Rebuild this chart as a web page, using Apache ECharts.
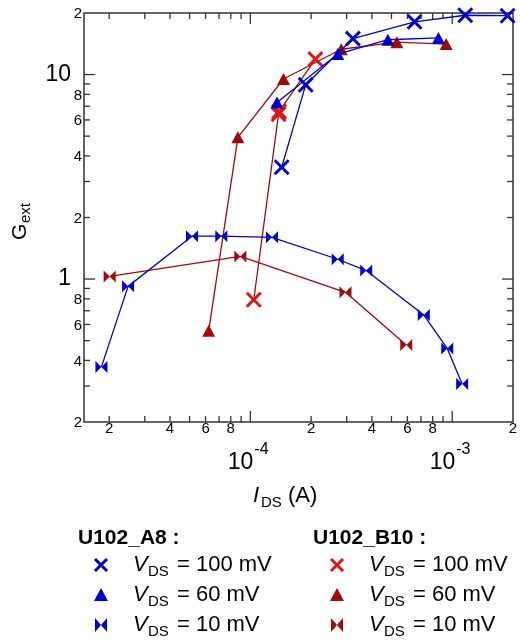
<!DOCTYPE html>
<html><head><meta charset="utf-8">
<script src="https://cdn.jsdelivr.net/npm/echarts@6/dist/echarts.min.js"></script>
<style>html,body{margin:0;padding:0;background:#fff}#c{width:520px;height:642px}</style>
</head><body><div id="c"></div>
<script>
// ---- data ----
const a8_100_x = [1.43e-4, 1.88e-4, 3.22e-4, 6.51e-4, 1.16e-3, 1.88e-3];
const a8_100_y = [3.52, 8.91, 15.0, 18.1, 19.5, 19.4];
const a8_60_x = [1.355e-4, 2.71e-4, 4.8e-4, 8.55e-4];
const a8_60_y = [7.31, 12.6, 14.8, 15.1];
const a8_10_x = [1.83e-5, 2.48e-5, 5.14e-5, 7.18e-5, 1.28e-4, 2.71e-4, 3.75e-4, 7.23e-4, 9.45e-4, 1.12e-3];
const a8_10_y = [0.372, 0.921, 1.62, 1.62, 1.60, 1.25, 1.10, 0.667, 0.458, 0.307];
const b10_100_x = [1.04e-4, 1.38e-4, 1.39e-4, 2.10e-4];
const b10_100_y = [0.792, 6.4, 6.6, 11.9];
const b10_60_x = [6.22e-5, 8.68e-5, 1.46e-4, 2.82e-4, 5.32e-4, 9.33e-4];
const b10_60_y = [0.559, 4.93, 9.51, 13.3, 14.4, 14.1];
const b10_10_x = [2.01e-5, 8.92e-5, 2.96e-4, 5.92e-4];
const b10_10_y = [1.03, 1.29, 0.861, 0.476];

// ---- axes ----
const xMin = 1.5e-5, xMax = 2e-3, yMin = 0.2, yMax = 20;
const xTicks = [2e-5,3e-5,4e-5,5e-5,6e-5,7e-5,8e-5,9e-5,1e-4,2e-4,3e-4,4e-4,5e-4,6e-4,7e-4,8e-4,9e-4,1e-3];
const yTicks = [0.3,0.4,0.5,0.6,0.7,0.8,0.9,1,2,3,4,5,6,7,8,9,10];
const xMinorLabelVals = [2e-5,4e-5,6e-5,8e-5,2e-4,4e-4,6e-4,8e-4,2e-3];
const xMinorLabelText = ['2','4','6','8','2','4','6','8','2'];
const xMajorLabelVals = [1e-4,1e-3];
const xMajorLabelExp = ['-4','-3'];
const yMinorLabelVals = [0.2,0.4,0.6,0.8,2,4,6,8,20];
const yMinorLabelText = ['2','4','6','8','2','4','6','8','2'];
const yMajorLabelVals = [1,10];
const yMajorLabelText = ['1','10'];

const FONT = '"Liberation Sans", Arial, sans-serif';
const BLUE = '#0000cc', RED_X = '#e01515', DRED = '#a00a0a';
const AX = '#333';

function isMajor(v){ const l = Math.log10(v); return Math.abs(l - Math.round(l)) < 1e-6; }
function txt(text, x, y, size, align, valign, style){
  return {type:'text', x:x, y:y, style:{text:text, fill:'#000', font: (style ? style+' ' : '') + size+'px '+FONT,
    align:align, verticalAlign:valign, textAlign:align, textVerticalAlign:valign}};
}

const XPATH = 'path://M0,2.6L2.6,0L10,7.4L17.4,0L20,2.6L12.6,10L20,17.4L17.4,20L10,12.6L2.6,20L0,17.4L7.4,10Z';
const BOWTIE = 'path://M0,0L10,10L0,20ZM20,0L10,10L20,20Z';

function lineSeries(xs, ys, symbol, size, symColor, lineColor, z){
  return {type:'line', data: xs.map((x,i)=>[x, ys[i]]), symbol: symbol, symbolSize: size,
    itemStyle:{color: symColor}, lineStyle:{color: lineColor, width: 1.3}, z: z, silent: true, animation:false};
}

function custom(data, render){
  return {type:'custom', coordinateSystem:'cartesian2d', data: data, renderItem: render, silent:true, clip:false, z: 10, animation:false};
}

const xTickSeries = custom(xTicks.map(v=>[v, yMin]), function(p, api){
  const v = api.value(0); const len = isMajor(v) ? 11 : 6;
  const b = api.coord([v, yMin]), t = api.coord([v, yMax]);
  const st = {stroke: AX, lineWidth: 1.3};
  return {type:'group', children:[
    {type:'line', shape:{x1:b[0], y1:b[1], x2:b[0], y2:b[1]-len}, style: st},
    {type:'line', shape:{x1:t[0], y1:t[1], x2:t[0], y2:t[1]+len}, style: st}
  ]};
});
const yTickSeries = custom(yTicks.map(v=>[xMin, v]), function(p, api){
  const v = api.value(1); const len = isMajor(v) ? 11 : 6;
  const l = api.coord([xMin, v]), r = api.coord([xMax, v]);
  const st = {stroke: AX, lineWidth: 1.3};
  return {type:'group', children:[
    {type:'line', shape:{x1:l[0], y1:l[1], x2:l[0]+len, y2:l[1]}, style: st},
    {type:'line', shape:{x1:r[0], y1:r[1], x2:r[0]-len, y2:r[1]}, style: st}
  ]};
});
const xMinorLabels = custom(xMinorLabelVals.map(v=>[v, yMin]), function(p, api){
  const c = api.coord([api.value(0), yMin]);
  return txt(xMinorLabelText[p.dataIndex], c[0], c[1]+7, 15, 'center', 'middle');
});
const xMajorLabels = custom(xMajorLabelVals.map(v=>[v, yMin]), function(p, api){
  const c = api.coord([api.value(0), yMin]);
  return {type:'group', children:[
    txt('10', c[0]+3, c[1]+41, 23, 'right', 'middle'),
    txt(xMajorLabelExp[p.dataIndex], c[0]+4, c[1]+28, 16, 'left', 'middle')
  ]};
});
const yMinorLabels = custom(yMinorLabelVals.map(v=>[xMin, v]), function(p, api){
  const c = api.coord([xMin, api.value(1)]);
  return txt(yMinorLabelText[p.dataIndex], c[0]-2, c[1]+1, 15, 'right', 'middle');
});
const yMajorLabels = custom(yMajorLabelVals.map(v=>[xMin, v]), function(p, api){
  const c = api.coord([xMin, api.value(1)]);
  return txt(yMajorLabelText[p.dataIndex], c[0]-13, c[1], 23, 'right', 'middle');
});

// ---- legend graphics ----
function xMark(cx, cy, color){
  const s = 6;
  const st = {stroke: color, lineWidth: 3};
  return {type:'group', children:[
    {type:'line', shape:{x1:cx-s, y1:cy-s, x2:cx+s, y2:cy+s}, style: st},
    {type:'line', shape:{x1:cx-s, y1:cy+s, x2:cx+s, y2:cy-s}, style: st}
  ]};
}
function triMark(cx, cy, color){
  return {type:'polygon', shape:{points:[[cx, cy-7],[cx+7, cy+6],[cx-7, cy+6]]}, style:{fill: color}};
}
function bowMark(cx, cy, color){
  return {type:'group', children:[
    {type:'polygon', shape:{points:[[cx-6, cy-7],[cx, cy],[cx-6, cy+7]]}, style:{fill: color}},
    {type:'polygon', shape:{points:[[cx+6, cy-7],[cx, cy],[cx+6, cy+7]]}, style:{fill: color}}
  ]};
}
function vdsEntry(x, y, rest){
  return {type:'group', children:[
    txt('V', x, y, 22, 'left', 'middle', 'italic'),
    txt('DS', x+15, y+7, 15, 'left', 'middle'),
    txt(rest, x+44, y, 22, 'left', 'middle')
  ]};
}
function header(text, x, y){
  return txt(text, x, y, 21, 'left', 'middle', 'bold');
}
const legendRows = [565, 595, 625];
const graphics = [
  header('U102_A8 :', 78, 538),
  header('U102_B10 :', 313, 538),
  xMark(101, legendRows[0], BLUE), triMark(101, legendRows[1], BLUE), bowMark(101, legendRows[2], BLUE),
  vdsEntry(133, legendRows[0], '= 100 mV'), vdsEntry(133, legendRows[1], '= 60 mV'), vdsEntry(133, legendRows[2], '= 10 mV'),
  xMark(337, legendRows[0], RED_X), triMark(337, legendRows[1], DRED), bowMark(337, legendRows[2], DRED),
  vdsEntry(369, legendRows[0], '= 100 mV'), vdsEntry(369, legendRows[1], '= 60 mV'), vdsEntry(369, legendRows[2], '= 10 mV'),
  // x-axis title
  {type:'group', children:[
    txt('I', 253, 496, 22, 'left', 'middle', 'italic'),
    txt('DS', 261, 503, 15, 'left', 'middle'),
    txt('(A)', 288, 496, 22, 'left', 'middle')
  ]},
  // y-axis title (rotated)
  {type:'group', x:20, y:216, rotation: Math.PI/2, children:[
    txt('G', -24, 0, 21, 'left', 'middle'),
    txt('ext', -7, 6, 15, 'left', 'middle')
  ]}
];

const chart = echarts.init(document.getElementById('c'), null, {renderer:'canvas'});
chart.setOption({
  animation: false,
  backgroundColor: '#fff',
  grid: {left: 84, right: 7, top: 13, bottom: 220, show: true, borderColor: AX, borderWidth: 1.5, backgroundColor: 'transparent'},
  xAxis: {type:'log', logBase:10, min:xMin, max:xMax, axisLine:{show:false}, axisTick:{show:false}, axisLabel:{show:false}, splitLine:{show:false}, minorTick:{show:false}},
  yAxis: {type:'log', logBase:10, min:yMin, max:yMax, axisLine:{show:false}, axisTick:{show:false}, axisLabel:{show:false}, splitLine:{show:false}, minorTick:{show:false}},
  series: [
    xTickSeries, yTickSeries, xMinorLabels, xMajorLabels, yMinorLabels, yMajorLabels,
    lineSeries(b10_10_x, b10_10_y, BOWTIE, [12, 12], DRED, DRED, 3),
    lineSeries(b10_60_x, b10_60_y, 'triangle', [13, 12], DRED, DRED, 3),
    lineSeries(b10_100_x, b10_100_y, XPATH, 16, RED_X, DRED, 4),
    lineSeries(a8_10_x, a8_10_y, BOWTIE, [12, 12], BLUE, BLUE, 5),
    lineSeries(a8_60_x, a8_60_y, 'triangle', [13, 12], BLUE, BLUE, 5),
    lineSeries(a8_100_x, a8_100_y, XPATH, 16, BLUE, BLUE, 6)
  ],
  graphic: graphics
});
</script></body></html>
